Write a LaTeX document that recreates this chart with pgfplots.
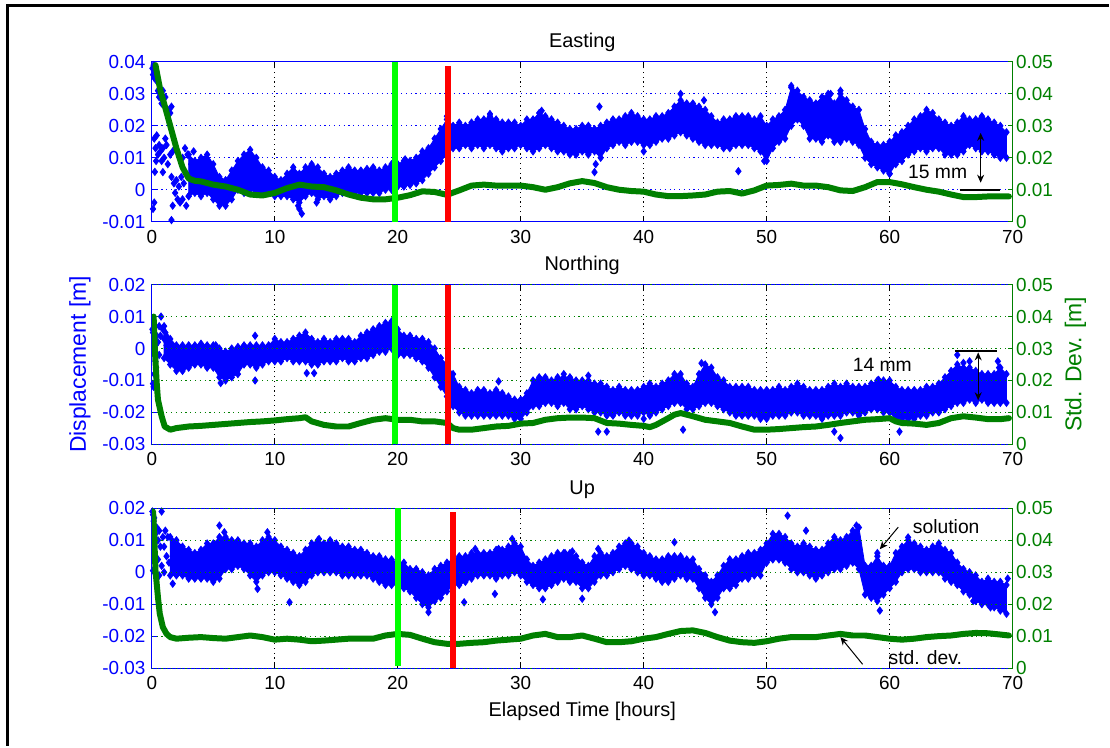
\documentclass[border=0pt]{standalone}
\usepackage{fontspec}
\setmainfont{Liberation Sans}
\usepackage{pgfplots}
\usepackage{pgfplotstable}
\pgfplotsset{compat=1.18}
\usepgfplotslibrary{fillbetween}
\usetikzlibrary{arrows.meta}

\definecolor{mblue}{rgb}{0,0,1}
\definecolor{mgreen}{rgb}{0,0.5,0}
\definecolor{vgreen}{rgb}{0,1,0}
\definecolor{vred}{rgb}{1,0,0}

% blue solution cloud: lower / upper envelope every half hour
\pgfplotstableread{
h lo hi
3.0 -0.002 0.011
3.5 -0.001 0.009
4.0 -0.002 0.010
4.5 -0.001 0.011
5.0 -0.003 0.008
5.5 -0.005 0.004
6.0 -0.005 0.003
6.5 -0.003 0.006
7.0 0.000 0.009
7.5 -0.001 0.011
8.0 0.000 0.0125
8.5 -0.001 0.010
9.0 -0.001 0.007
9.5 -0.001 0.006
10.0 -0.002 0.004
10.5 -0.002 0.003
11.0 -0.002 0.005
11.5 -0.003 0.007
12.0 -0.004 0.005
12.5 -0.002 0.007
13.0 -0.001 0.008
13.5 -0.003 0.007
14.0 -0.002 0.005
14.5 -0.003 0.004
15.0 -0.002 0.005
15.5 -0.001 0.006
16.0 -0.001 0.007
16.5 -0.001 0.006
17.0 -0.001 0.006
17.5 -0.001 0.0065
18.0 -0.001 0.007
18.5 -0.001 0.006
19.0 0.000 0.007
19.5 0.000 0.008
20.0 0.001 0.008
20.5 0.001 0.009
21.0 0.0015 0.009
21.5 0.002 0.010
22.0 0.003 0.012
22.5 0.005 0.013
23.0 0.007 0.016
23.5 0.009 0.019
24.0 0.011 0.022
24.5 0.013 0.020
25.0 0.013 0.021
25.5 0.014 0.020
26.0 0.013 0.021
26.5 0.014 0.022
27.0 0.013 0.022
27.5 0.014 0.023
28.0 0.013 0.022
28.5 0.012 0.021
29.0 0.013 0.021
29.5 0.013 0.021
30.0 0.014 0.020
30.5 0.013 0.022
31.0 0.012 0.022
31.5 0.013 0.024
32.0 0.014 0.023
32.5 0.013 0.022
33.0 0.012 0.021
33.5 0.012 0.020
34.0 0.011 0.019
34.5 0.011 0.019
35.0 0.012 0.020
35.5 0.011 0.020
36.0 0.012 0.019
36.5 0.010 0.020
37.0 0.013 0.021
37.5 0.014 0.022
38.0 0.015 0.022
38.5 0.014 0.023
39.0 0.015 0.024
39.5 0.015 0.023
40.0 0.014 0.022
40.5 0.014 0.022
41.0 0.015 0.023
41.5 0.016 0.023
42.0 0.016 0.024
42.5 0.017 0.026
43.0 0.018 0.028
43.5 0.017 0.027
44.0 0.016 0.027
44.5 0.015 0.026
45.0 0.014 0.025
45.5 0.014 0.023
46.0 0.014 0.021
46.5 0.013 0.022
47.0 0.013 0.022
47.5 0.014 0.023
48.0 0.014 0.023
48.5 0.014 0.023
49.0 0.013 0.022
49.5 0.012 0.023
50.0 0.009 0.020
50.5 0.013 0.022
51.0 0.015 0.023
51.5 0.016 0.025
52.0 0.020 0.032
52.5 0.022 0.031
53.0 0.020 0.029
53.5 0.016 0.028
54.0 0.016 0.027
54.5 0.015 0.029
55.0 0.017 0.030
55.5 0.015 0.027
56.0 0.015 0.030
56.5 0.016 0.028
57.0 0.015 0.026
57.5 0.014 0.025
58.0 0.010 0.019
58.5 0.008 0.015
59.0 0.007 0.014
59.5 0.006 0.014
60.0 0.005 0.015
60.5 0.008 0.017
61.0 0.009 0.018
61.5 0.011 0.020
62.0 0.012 0.022
62.5 0.013 0.023
63.0 0.012 0.025
63.5 0.013 0.024
64.0 0.013 0.022
64.5 0.011 0.021
65.0 0.011 0.020
65.5 0.011 0.021
66.0 0.012 0.023
66.5 0.014 0.022
67.0 0.013 0.022
67.5 0.012 0.023
68.0 0.012 0.022
68.5 0.011 0.021
69.0 0.010 0.020
69.5 0.010 0.018
}\eastband

\pgfplotstableread{
h s
0.3 0.049
0.5 0.045
0.7 0.041
1.0 0.037
1.5 0.030
2.0 0.023
2.5 0.017
3.0 0.0135
3.5 0.0128
4.0 0.0126
5 0.0116
6 0.011
7 0.010
8 0.0085
9 0.0082
10 0.009
11 0.0105
12 0.0116
13 0.011
14 0.0108
15 0.0098
16 0.0085
17 0.0075
18 0.007
19 0.007
20 0.0075
21 0.0083
22 0.0095
23 0.0093
24 0.0084
25 0.0098
26 0.0113
27 0.0116
28 0.0113
29 0.0113
30 0.0113
31 0.0108
32 0.010
33 0.0108
34 0.012
35 0.0127
36 0.0121
37 0.0108
38 0.010
39 0.0096
40 0.0094
41 0.0085
42 0.008
43 0.008
44 0.0082
45 0.0085
46 0.0094
47 0.0096
48 0.0088
49 0.0098
50 0.0113
51 0.0115
52 0.0119
53 0.0113
54 0.0113
55 0.0108
56 0.0098
57 0.0096
58 0.0108
59 0.0124
60 0.0124
61 0.0117
62 0.0108
63 0.010
64 0.0094
65 0.0085
66 0.0077
67 0.0077
68 0.0079
69 0.0079
69.7 0.0079
}\eastsd

\pgfplotstableread{
h lo hi
1.0 -0.003 0.007
1.5 -0.005 0.003
2.0 -0.007 0.001
2.5 -0.007 0.001
3.0 -0.006 0.001
3.5 -0.005 0.001
4.0 -0.005 0.0015
4.5 -0.006 0.001
5.0 -0.006 0.001
5.5 -0.009 0.000
6.0 -0.010 -0.001
6.5 -0.009 0.000
7.0 -0.008 0.0005
7.5 -0.005 0.001
8.0 -0.005 0.001
8.5 -0.006 0.001
9.0 -0.005 0.001
9.5 -0.004 0.001
10.0 -0.004 0.003
10.5 -0.004 0.002
11.0 -0.003 0.002
11.5 -0.004 0.003
12.0 -0.004 0.004
12.5 -0.004 0.005
13.0 -0.005 0.003
13.5 -0.005 0.002
14.0 -0.004 0.003
14.5 -0.004 0.002
15.0 -0.004 0.003
15.5 -0.003 0.003
16.0 -0.004 0.003
16.5 -0.004 0.002
17.0 -0.003 0.004
17.5 -0.003 0.005
18.0 -0.002 0.006
18.5 -0.001 0.007
19.0 -0.001 0.008
19.5 0.000 0.0085
20.0 -0.002 0.006
20.5 -0.002 0.004
21.0 -0.002 0.004
21.5 -0.003 0.003
22.0 -0.004 0.003
22.5 -0.006 0.002
23.0 -0.009 0.000
23.5 -0.012 -0.003
24.0 -0.015 -0.005
24.5 -0.018 -0.008
25.0 -0.020 -0.012
25.5 -0.021 -0.013
26.0 -0.021 -0.014
26.5 -0.021 -0.013
27.0 -0.021 -0.013
27.5 -0.021 -0.014
28.0 -0.021 -0.013
28.5 -0.021 -0.014
29.0 -0.021 -0.015
29.5 -0.022 -0.016
30.0 -0.022 -0.016
30.5 -0.020 -0.014
31.0 -0.018 -0.010
31.5 -0.018 -0.009
32.0 -0.017 -0.009
32.5 -0.017 -0.010
33.0 -0.018 -0.009
33.5 -0.017 -0.009
34.0 -0.019 -0.009
34.5 -0.019 -0.010
35.0 -0.018 -0.010
35.5 -0.019 -0.010
36.0 -0.020 -0.011
36.5 -0.020 -0.011
37.0 -0.021 -0.012
37.5 -0.021 -0.013
38.0 -0.020 -0.012
38.5 -0.021 -0.013
39.0 -0.021 -0.013
39.5 -0.021 -0.013
40.0 -0.020 -0.012
40.5 -0.021 -0.011
41.0 -0.020 -0.012
41.5 -0.019 -0.011
42.0 -0.018 -0.010
42.5 -0.017 -0.008
43.0 -0.017 -0.008
43.5 -0.019 -0.011
44.0 -0.019 -0.012
44.5 -0.018 -0.008
45.0 -0.017 -0.005
45.5 -0.017 -0.006
46.0 -0.018 -0.009
46.5 -0.019 -0.010
47.0 -0.020 -0.012
47.5 -0.021 -0.012
48.0 -0.021 -0.012
48.5 -0.021 -0.012
49.0 -0.021 -0.013
49.5 -0.022 -0.013
50.0 -0.022 -0.013
50.5 -0.021 -0.013
51.0 -0.021 -0.012
51.5 -0.021 -0.013
52.0 -0.020 -0.012
52.5 -0.020 -0.011
53.0 -0.021 -0.012
53.5 -0.021 -0.013
54.0 -0.021 -0.013
54.5 -0.022 -0.013
55.0 -0.021 -0.012
55.5 -0.021 -0.011
56.0 -0.021 -0.012
56.5 -0.020 -0.011
57.0 -0.020 -0.012
57.5 -0.021 -0.012
58.0 -0.020 -0.012
58.5 -0.019 -0.011
59.0 -0.019 -0.010
59.5 -0.020 -0.010
60.0 -0.020 -0.010
60.5 -0.022 -0.012
61.0 -0.022 -0.013
61.5 -0.022 -0.013
62.0 -0.022 -0.013
62.5 -0.021 -0.013
63.0 -0.021 -0.012
63.5 -0.020 -0.012
64.0 -0.020 -0.011
64.5 -0.019 -0.009
65.0 -0.018 -0.007
65.5 -0.017 -0.005
66.0 -0.017 -0.006
66.5 -0.016 -0.006
67.0 -0.017 -0.007
67.5 -0.016 -0.008
68.0 -0.017 -0.008
68.5 -0.017 -0.008
69.0 -0.017 -0.006
69.5 -0.017 -0.008
}\northband

\pgfplotstableread{
h s
0.15 0.040
0.25 0.0296
0.4 0.0192
0.5 0.014
0.8 0.0088
1.05 0.0056
1.5 0.0046
2 0.0051
3 0.0056
4 0.0058
5 0.0061
6 0.0064
7 0.0067
8 0.0070
9 0.0072
10 0.0075
11 0.0079
12 0.0082
12.5 0.0085
13 0.0072
14 0.0061
15 0.0056
16 0.0056
17 0.0067
17.5 0.0072
18 0.0077
19 0.0082
20 0.0077
21 0.0077
22 0.0072
23 0.0072
24 0.0067
24.5 0.0051
25 0.0046
26 0.0046
27 0.0051
28 0.0056
29 0.0058
30 0.0065
31 0.0067
32 0.0077
33 0.0082
34 0.0084
35 0.0084
36 0.0082
37 0.0067
38 0.0065
39 0.0061
40 0.0058
40.5 0.0054
41 0.0061
42 0.0082
42.5 0.0093
43 0.0098
44 0.0088
45 0.0077
46 0.0072
47 0.0067
48 0.0056
49 0.0046
50 0.0046
51 0.0048
52 0.0051
53 0.0054
54 0.0056
55 0.0061
56 0.0067
57 0.0072
58 0.0077
59 0.0079
60 0.0082
60.5 0.0072
61 0.0067
62 0.0065
63 0.0061
64 0.0067
65 0.0082
66 0.0088
67 0.0084
68 0.0079
69 0.0079
69.7 0.0082
}\northsd

\pgfplotstableread{
h lo hi
1.5 -0.001 0.011
2.0 -0.001 0.010
2.5 -0.001 0.008
3.0 -0.002 0.007
3.5 -0.002 0.006
4.0 -0.002 0.007
4.5 -0.002 0.009
5.0 -0.003 0.009
5.5 -0.002 0.011
6.0 0.001 0.011
6.5 0.001 0.010
7.0 0.002 0.010
7.5 0.001 0.009
8.0 -0.001 0.009
8.5 -0.003 0.008
9.0 -0.001 0.010
9.5 0.000 0.011
10.0 0.000 0.010
10.5 -0.001 0.008
11.0 -0.002 0.007
11.5 -0.003 0.006
12.0 -0.004 0.005
12.5 -0.003 0.007
13.0 -0.001 0.009
13.5 0.000 0.010
14.0 0.000 0.009
14.5 0.000 0.010
15.0 0.000 0.009
15.5 -0.001 0.008
16.0 -0.001 0.008
16.5 -0.001 0.007
17.0 -0.001 0.007
17.5 -0.001 0.006
18.0 -0.002 0.005
18.5 -0.003 0.005
19.0 -0.004 0.004
19.5 -0.004 0.004
20.0 -0.004 0.003
20.5 -0.005 0.003
21.0 -0.006 0.001
21.5 -0.008 0.001
22.0 -0.010 0.000
22.5 -0.011 -0.001
23.0 -0.009 0.001
23.5 -0.008 0.002
24.0 -0.006 0.003
24.5 -0.004 0.004
25.0 -0.004 0.005
25.5 -0.003 0.005
26.0 -0.002 0.006
26.5 -0.001 0.006
27.0 -0.001 0.006
27.5 -0.001 0.006
28.0 -0.002 0.007
28.5 -0.001 0.007
29.0 -0.001 0.008
29.5 0.000 0.009
30.0 -0.001 0.008
30.5 -0.003 0.004
31.0 -0.004 0.002
31.5 -0.005 0.003
32.0 -0.005 0.004
32.5 -0.004 0.005
33.0 -0.003 0.006
33.5 -0.002 0.006
34.0 -0.003 0.006
34.5 -0.003 0.005
35.0 -0.005 0.003
35.5 -0.005 0.002
36.0 -0.003 0.005
36.5 -0.001 0.006
37.0 -0.001 0.005
37.5 0.000 0.006
38.0 0.001 0.008
38.5 0.002 0.009
39.0 0.001 0.009
39.5 0.000 0.008
40.0 -0.001 0.006
40.5 -0.001 0.005
41.0 -0.002 0.004
41.5 -0.003 0.004
42.0 -0.003 0.005
42.5 -0.002 0.005
43.0 -0.001 0.005
43.5 -0.002 0.004
44.0 -0.002 0.004
44.5 -0.005 0.001
45.0 -0.008 -0.001
45.5 -0.010 -0.003
46.0 -0.008 -0.001
46.5 -0.005 0.002
47.0 -0.005 0.004
47.5 -0.004 0.004
48.0 -0.002 0.005
48.5 -0.002 0.006
49.0 -0.001 0.006
49.5 -0.001 0.007
50.0 0.003 0.009
50.5 0.004 0.012
51.0 0.004 0.012
51.5 0.003 0.011
52.0 0.001 0.009
52.5 0.000 0.008
53.0 0.000 0.009
53.5 -0.001 0.008
54.0 -0.002 0.007
54.5 -0.001 0.007
55.0 0.000 0.009
55.5 0.001 0.011
56.0 0.001 0.010
56.5 0.002 0.011
57.0 0.003 0.013
57.5 0.001 0.014
58.0 -0.007 0.002
58.5 -0.008 0.002
59.0 -0.009 0.005
59.5 -0.007 0.002
60.0 -0.005 0.002
60.5 -0.003 0.006
61.0 0.000 0.008
61.5 0.001 0.010
62.0 0.001 0.009
62.5 0.000 0.008
63.0 0.000 0.007
63.5 0.000 0.008
64.0 0.000 0.009
64.5 -0.002 0.007
65.0 -0.003 0.006
65.5 -0.004 0.003
66.0 -0.006 0.001
66.5 -0.007 0.000
67.0 -0.009 -0.001
67.5 -0.010 -0.003
68.0 -0.010 -0.002
68.5 -0.011 -0.003
69.0 -0.012 -0.003
69.5 -0.013 -0.004
}\upband

\pgfplotstableread{
h s
0.1 0.049
0.15 0.046
0.3 0.0305
0.5 0.0222
0.65 0.017
0.9 0.0128
1.2 0.0107
1.5 0.0097
2 0.0092
3 0.0095
4 0.0097
5 0.0094
6 0.0092
7 0.0097
8 0.0102
9 0.0097
10 0.0089
11 0.0092
12 0.0089
13 0.0084
14 0.0086
15 0.0089
16 0.0092
17 0.0092
18 0.0092
19 0.0102
20 0.0107
21 0.0104
22 0.0092
23 0.0081
24 0.0076
25 0.0076
26 0.0079
27 0.0081
28 0.0086
29 0.0089
30 0.0092
31 0.0102
32 0.0107
33 0.0097
34 0.0097
35 0.0102
36 0.0092
37 0.0081
38 0.0081
39 0.0084
40 0.0092
41 0.0097
42 0.0107
43 0.0116
44 0.0118
45 0.0110
46 0.0097
47 0.0086
48 0.0081
49 0.0079
50 0.0084
51 0.0092
52 0.0097
53 0.0097
54 0.0097
55 0.0102
56 0.0107
57 0.0102
58 0.0102
59 0.0097
60 0.0092
61 0.0089
62 0.0092
63 0.0097
64 0.0100
65 0.0102
66 0.0107
67 0.0110
68 0.0109
69 0.0105
69.7 0.0102
}\upsd

\tikzset{
  ann/.style={font=\fontsize{9.7}{11}\selectfont},
  dbl/.style={{Stealth[length=4bp,width=3.5bp]}-{Stealth[length=4bp,width=3.5bp]}, line width=0.6bp},
  sgl/.style={-{Stealth[length=4bp,width=3.5bp]}, line width=0.5bp},
  vline/.style={line width=3bp},
}

\pgfplotsset{
  panel/.style={
    scale only axis, width=431bp, height=80bp,
    xmin=0, xmax=70,
    xtick={0,10,20,30,40,50,60,70},
    scaled x ticks=false, scaled y ticks=false,
    tick align=inside, major tick length=2.5bp,
    axis line style={line width=0.5bp},
    every tick label/.append style={font=\fontsize{9.5}{11}\selectfont, inner sep=0pt},
    title style={at={(0.5,1)}, anchor=base, yshift=1bp, font=\fontsize{10}{12}\selectfont},
  },
  leftax/.style={panel,
    xtick pos=both, ytick pos=left,
    xticklabels={0,10,20,30,40,50,60,70},
    xticklabel shift=4bp, yticklabel shift=3bp,
    x axis line style={black}, y axis line style={mblue},
    x tick style={black, line width=0.5bp}, y tick style={mblue, line width=0.5bp},
    yticklabel style={mblue},
    xmajorgrids, major x grid style={black, dash pattern=on 0.6bp off 1.8bp, line width=0.5bp},
  },
  rightax/.style={panel, axis x line=none, axis y line*=right,
    ymin=0, ymax=0.05, ytick={0,0.01,0.02,0.03,0.04,0.05},
    yticklabels={0,0.01,0.02,0.03,0.04,0.05},
    y axis line style={mgreen}, y tick style={mgreen, line width=0.5bp},
    yticklabel style={mgreen}, yticklabel shift=1.5bp,
  },
  cloud/.style={only marks, mark=diamond*, mark size=1.8bp, mblue},
  band/.style={fill=mblue, draw=mblue, line width=0.4bp},
  sdev/.style={mgreen, line width=3bp, line join=round, line cap=round},
}

\begin{document}
\begin{tikzpicture}
\path (0,0) rectangle (555bp,373.5bp);
\draw[line width=1.5bp] (4bp,0) -- (4bp,370.5bp) -- (555bp,370.5bp);

% ---------- Easting ----------
\begin{axis}[leftax, at={(76bp,262.5bp)}, anchor=south west,
  ymin=-0.01, ymax=0.04, ytick={-0.01,0,0.01,0.02,0.03,0.04},
  yticklabels={-0.01,0,0.01,0.02,0.03,0.04},
  ymajorgrids, major y grid style={mblue, dash pattern=on 0.6bp off 1.8bp, line width=0.5bp},
  title={Easting}]
\addplot[name path=eU, draw=none] table[x=h,y=hi]{\eastband};
\addplot[name path=eL, draw=none] table[x=h,y=lo]{\eastband};
\addplot[band] fill between[of=eU and eL];
\addplot[cloud] table[x=h,y=hi]{\eastband};
\addplot[cloud] table[x=h,y=lo]{\eastband};
\addplot[cloud] coordinates {
(0.05,0.038)(0.1,0.036)(0.15,0.039)(0.2,0.035)(0.3,0.037)(0.4,0.034)(0.5,0.031)(0.6,0.029)(0.7,0.030)(0.8,0.027)(0.9,0.031)(1.1,0.029)(1.3,0.025)(1.5,0.024)(1.6,0.026)
(0.2,0.016)(0.3,0.013)(0.4,0.017)(0.5,0.011)(0.6,0.014)(0.7,0.012)(0.8,0.009)(0.9,0.013)(1.0,0.010)(1.2,0.014)(1.3,0.008)(1.1,0.016)(0.35,0.009)(1.5,0.011)(1.7,0.012)
(0.25,0.0056)(0.9,0.0055)(1.6,0.004)(1.8,0.002)(2.0,0.003)(2.2,0.001)(2.4,0.004)(2.6,0.002)(1.9,-0.001)(2.1,-0.003)(2.3,-0.004)(2.5,-0.003)(2.8,-0.005)(3.0,-0.002)(1.7,-0.005)(0.2,-0.004)(0.1,-0.006)(1.6,-0.0095)(2.7,0.013)(2.9,0.011)(2.5,0.010)(3.2,0.008)(3.4,0.012)
(11.9,-0.005)(12.0,-0.006)(12.2,-0.0075)(36.0,0.0055)(36.1,0.008)(36.4,0.026)(40.0,0.012)(43.0,0.030)(44.9,0.028)(47.7,0.0058)(49.8,0.009)(52.0,0.0325)(24.0,0.023)(31.7,0.0247)(27.5,0.0237)(55.2,0.030)(56.0,0.031)(60.0,0.005)(20.6,0.0095)(13.4,-0.004)
};
\end{axis}
\begin{axis}[rightax, at={(76bp,262.5bp)}, anchor=south west]
\addplot[sdev] table[x=h,y=s]{\eastsd};
\addplot[vline, vgreen] coordinates {(19.8,0) (19.8,0.05)};
\addplot[vline, vred] coordinates {(24.05,0) (24.05,0.0488)};
\draw[dbl] (axis cs:67.4,0.0278) -- (axis cs:67.4,0.0122);
\draw[line width=1.2bp] (axis cs:65.7,0.010) -- (axis cs:69.0,0.010);
\node[ann] at (axis cs:63.9,0.0156) {15 mm};
\end{axis}

% ---------- Northing ----------
\begin{axis}[leftax, at={(76bp,151bp)}, anchor=south west,
  ymin=-0.03, ymax=0.02, ytick={-0.03,-0.02,-0.01,0,0.01,0.02},
  yticklabels={-0.03,-0.02,-0.01,0,0.01,0.02},
  title={Northing},
  ylabel={Displacement [m]},
  ylabel style={at={(axis description cs:-0.0835,0.5)}, anchor=center, font=\fontsize{11.5}{13}\selectfont, mblue}]
\addplot[name path=nU, draw=none] table[x=h,y=hi]{\northband};
\addplot[name path=nL, draw=none] table[x=h,y=lo]{\northband};
\addplot[band] fill between[of=nU and nL];
\addplot[cloud] table[x=h,y=hi]{\northband};
\addplot[cloud] table[x=h,y=lo]{\northband};
\addplot[cloud] coordinates {
(0.05,0.006)(0.1,0.005)(0.1,-0.011)(0.15,-0.012)(0.2,0.003)(0.3,0.001)(0.3,-0.004)(0.4,0.004)(0.5,0.002)(0.6,0.007)(0.75,0.010)(0.7,0.004)(0.9,0.006)(1.0,0.003)(0.2,-0.008)(0.25,-0.002)(0.35,-0.006)(1.1,0.005)(1.2,0.001)(0.6,-0.002)
(5.2,0.001)(5.6,-0.0108)(8.4,0.004)(8.4,-0.010)(12.6,-0.0077)(13.2,-0.0077)(28.2,-0.0103)(36.3,-0.026)(37.0,-0.026)(43.2,-0.0254)(44.7,-0.0046)(55.5,-0.026)(56.0,-0.028)(59.1,-0.0098)(60.8,-0.026)(65.5,-0.002)(66.0,-0.0045)(66.5,-0.004)(68.8,-0.004)(68.9,-0.006)(40.0,-0.022)(35.5,-0.0085)(33.5,-0.008)
};
\end{axis}
\begin{axis}[rightax, at={(76bp,151bp)}, anchor=south west,
  ymajorgrids, major y grid style={mgreen, dash pattern=on 0.6bp off 1.8bp, line width=0.5bp},
  ylabel={Std. Dev. [m]},
  ylabel style={at={(axis description cs:1.0731,0.5)}, anchor=center, font=\fontsize{11.5}{13}\selectfont, mgreen}]
\addplot[sdev] table[x=h,y=s]{\northsd};
\addplot[vline, vgreen] coordinates {(19.8,0) (19.8,0.05)};
\addplot[vline, vred] coordinates {(24.05,0) (24.05,0.05)};
\draw[line width=1.2bp] (axis cs:65.3,0.0292) -- (axis cs:68.7,0.0292);
\draw[dbl] (axis cs:67.2,0.0288) -- (axis cs:67.2,0.0138);
\node[ann] at (axis cs:59.4,0.025) {14 mm};
\end{axis}

% ---------- Up ----------
\begin{axis}[leftax, at={(76bp,39bp)}, anchor=south west,
  ymin=-0.03, ymax=0.02, ytick={-0.03,-0.02,-0.01,0,0.01,0.02},
  yticklabels={-0.03,-0.02,-0.01,0,0.01,0.02},
  title={Up},
  xlabel={Elapsed Time [hours]},
  xlabel style={at={(axis description cs:0.5,0)}, anchor=base, yshift=-24bp, font=\fontsize{10}{12}\selectfont}]
\addplot[name path=uU, draw=none] table[x=h,y=hi]{\upband};
\addplot[name path=uL, draw=none] table[x=h,y=lo]{\upband};
\addplot[band] fill between[of=uU and uL];
\addplot[cloud] table[x=h,y=hi]{\upband};
\addplot[cloud] table[x=h,y=lo]{\upband};
\addplot[cloud] coordinates {
(0.05,0.019)(0.1,0.018)(0.15,0.016)(0.2,0.017)(0.3,0.012)(0.4,0.014)(0.5,0.010)(0.6,0.013)(0.8,0.019)(0.7,0.008)(0.9,0.011)(1.0,0.008)(1.1,0.013)(0.1,0.0005)(0.3,0.005)(0.5,0.004)(0.6,-0.001)(0.8,0.002)(1.2,0.005)(1.4,0.003)(1.7,-0.0036)(1.3,0.011)(0.4,-0.002)(1.0,0.0)
(5.5,0.0146)(5.9,0.0125)(8.6,-0.0052)(9.4,0.0125)(11.2,-0.0094)(13.6,0.0104)(22.5,-0.0125)(25.4,-0.0094)(26.3,0.0073)(28.2,0.0073)(27.9,-0.0068)(29.3,0.0104)(31.8,-0.0085)(35.0,-0.0083)(36.3,0.0073)(38.8,0.0099)(42.5,0.0094)(45.8,-0.0125)(51.7,0.0177)(53.2,0.013)(57.3,0.0146)(59.2,-0.012)(61.5,0.0109)(33.6,0.006)(34.2,0.0065)(66.8,-0.009)(68.2,-0.011)(69.6,-0.002)(57.6,0.005)(59.0,0.006)
};
\end{axis}
\begin{axis}[rightax, at={(76bp,39bp)}, anchor=south west,
  ymajorgrids, major y grid style={mgreen, dash pattern=on 0.6bp off 1.8bp, line width=0.5bp}]
\addplot[sdev] table[x=h,y=s]{\upsd};
\addplot[vline, vgreen] coordinates {(20.05,0.0006) (20.05,0.05)};
\addplot[vline, vred] coordinates {(24.5,0) (24.5,0.0488)};
\node[ann] at (axis cs:64.6,0.0444) {solution};
\draw[sgl] (axis cs:60.7,0.0441) -- (axis cs:59.2,0.0372);
\node[ann] at (axis cs:62.9,0.0034) {std. dev.};
\draw[sgl] (axis cs:57.8,0.0012) -- (axis cs:56.0,0.0097);
\end{axis}
\end{tikzpicture}
\end{document}
